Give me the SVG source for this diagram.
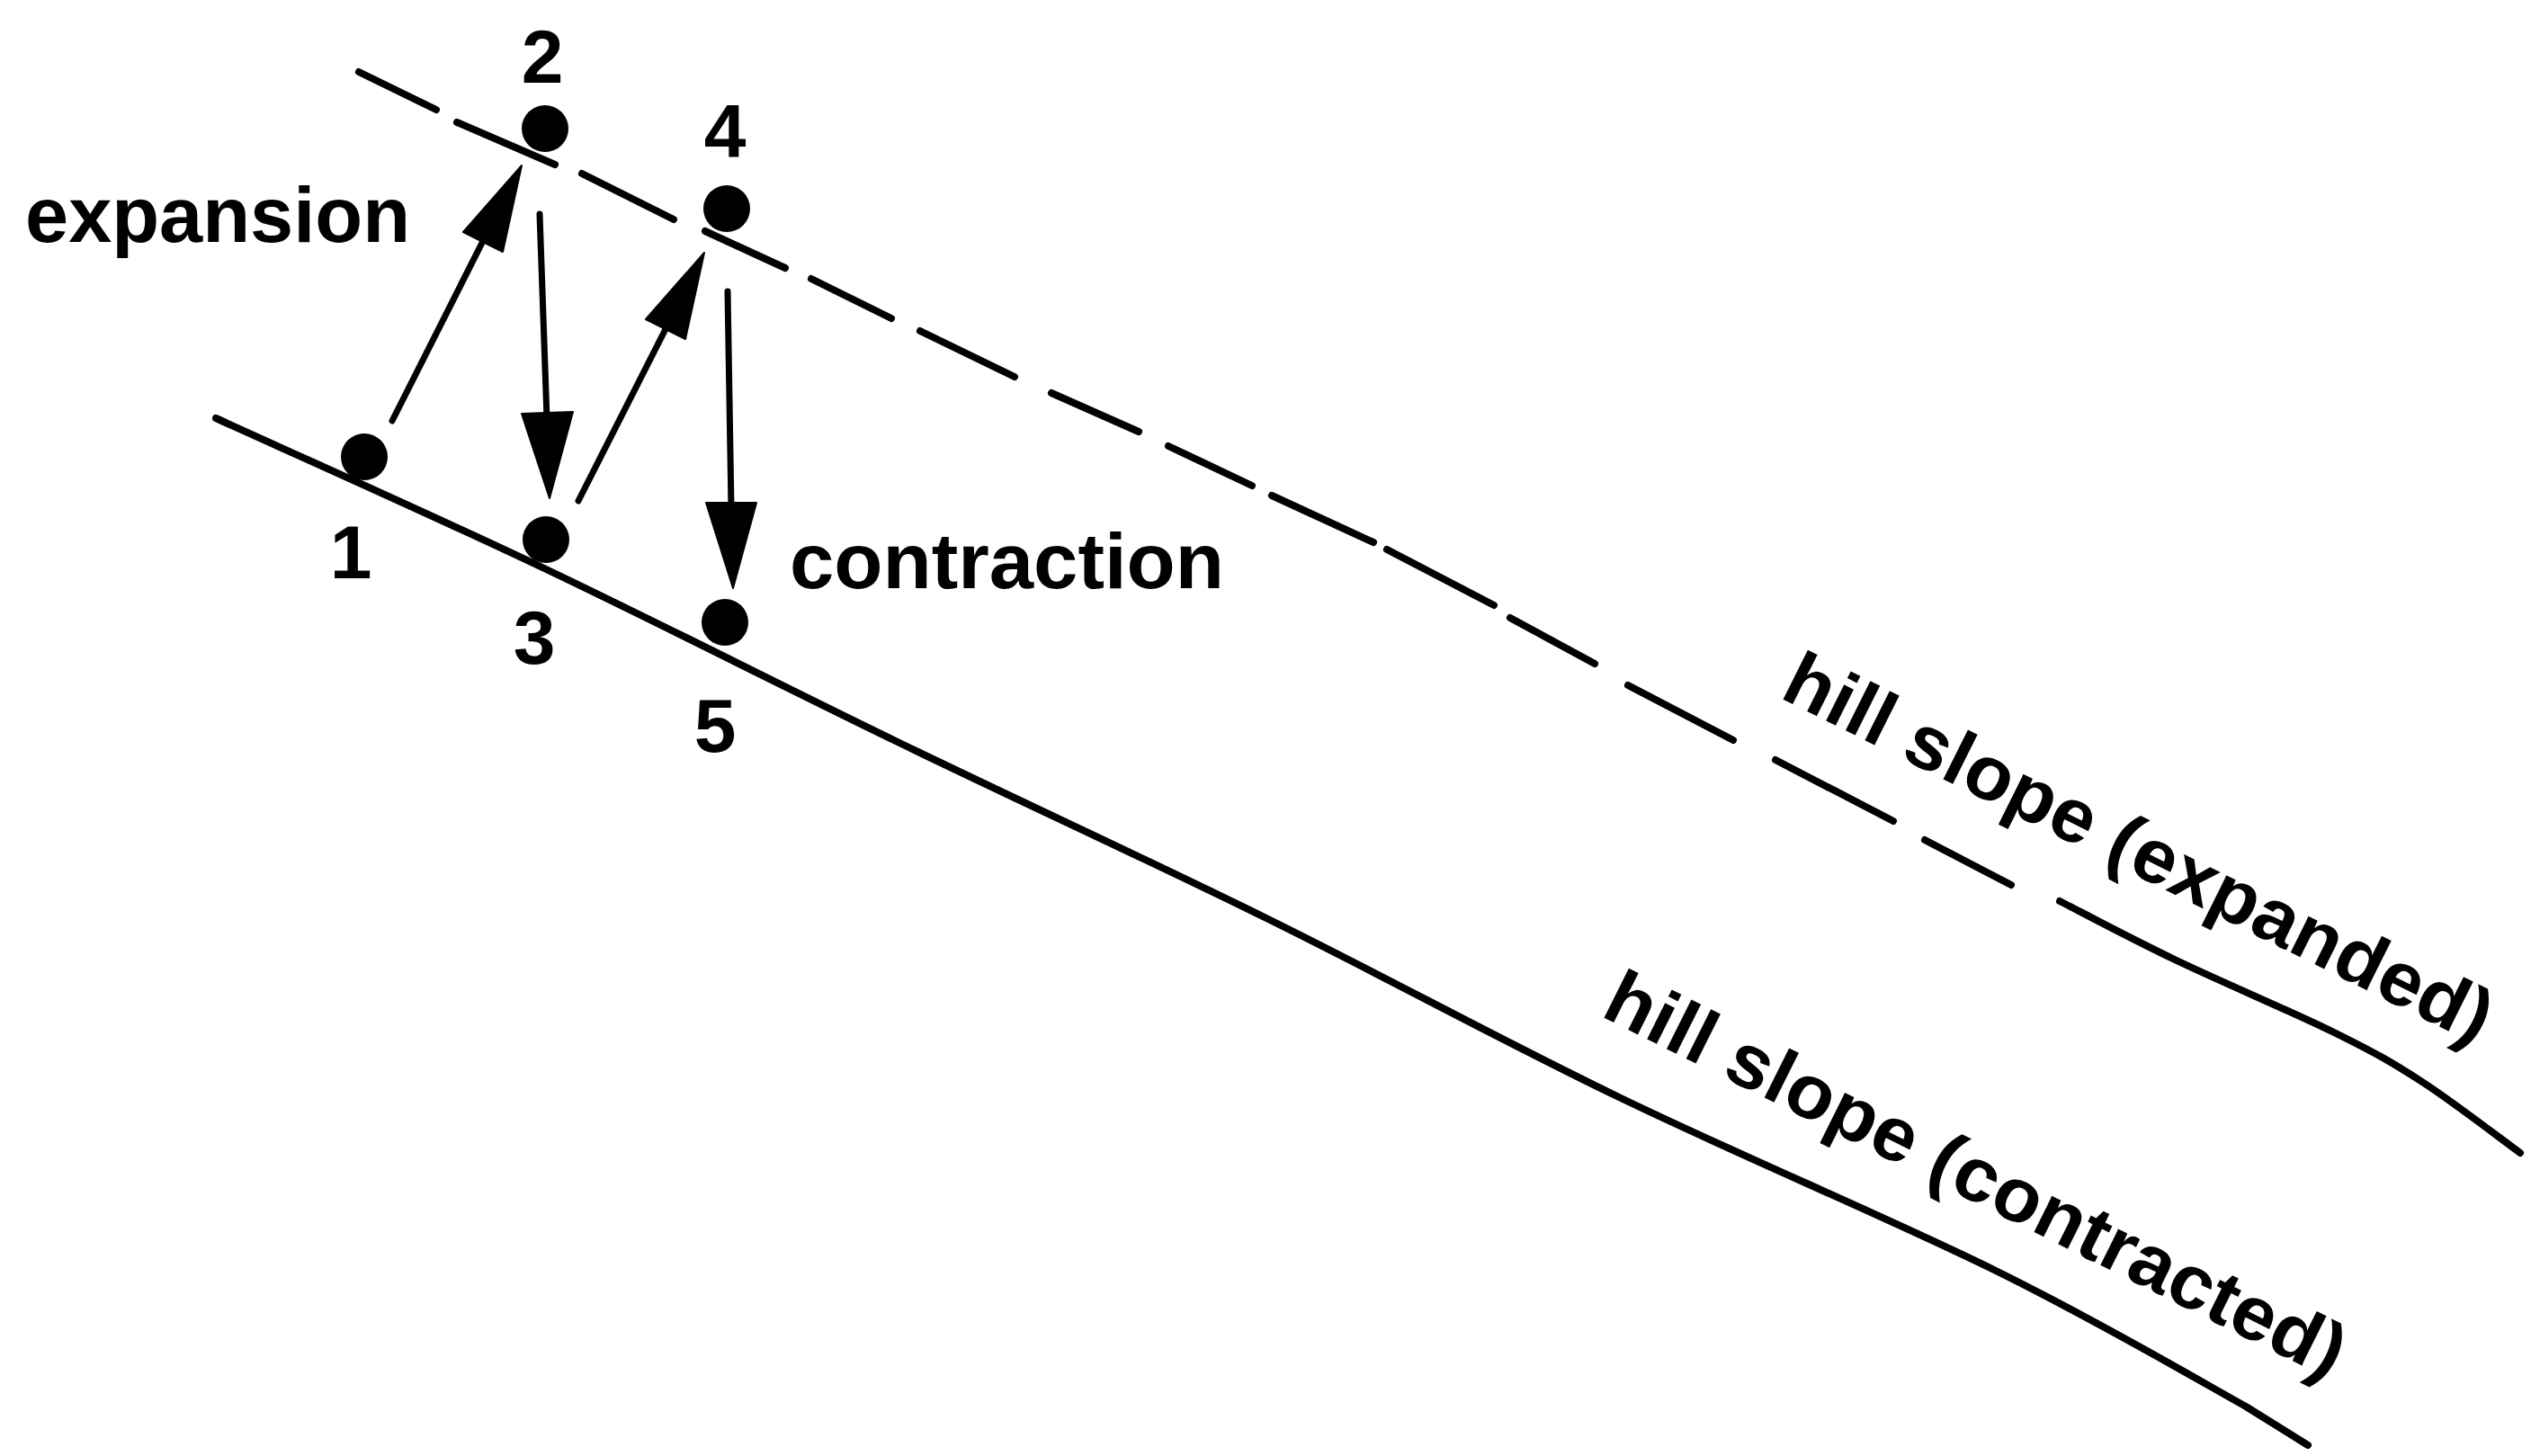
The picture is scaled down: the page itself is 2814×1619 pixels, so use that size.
<svg xmlns="http://www.w3.org/2000/svg" width="2814" height="1619" viewBox="0 0 2814 1619">
<style>
.bg{fill:#fff}
.ln{fill:none;stroke:#000;stroke-width:8;stroke-linecap:round;stroke-linejoin:round}
.sh{fill:none;stroke:#000;stroke-width:7;stroke-linecap:round}
.hd{fill:#000;stroke:#000;stroke-width:2;stroke-linejoin:round}
.dot{fill:#000}
.t{font-family:"Liberation Sans",Arial,sans-serif;font-weight:bold;fill:#000}
.num{font-size:84px;text-anchor:middle}
.lbl{font-size:87px}
.sl{font-size:85px}
</style>
<rect class="bg" x="0" y="0" width="2814" height="1619"/>
<g id="slope-expanded">
<path class="ln" d="M399,80 L485,122 M508,136 L617,183 M647,193 L749,244 M784,257 L873,298 M902,310 L991,354 M1023,368 L1128,419 M1169,437 L1266,480 M1299,496 L1392,540 M1414,551 L1527,603 M1542,611 L1661,673 M1679,687 L1773,738 M1810,762 L1927,823 M1974,845 L2105,913 M2140,934 L2236,984"/>
<path class="ln" d="M2290,1002 C2311.7,1013 2369.2,1043.7 2420,1068 C2470.8,1092.3 2549.5,1125.5 2595,1148 C2640.5,1170.5 2658.5,1180.7 2693,1203 C2727.5,1225.3 2783.8,1268.8 2802,1282"/>
<text class="t sl" transform="translate(1977,775) rotate(26.5)" textLength="868" lengthAdjust="spacingAndGlyphs">hill slope (expanded)</text>
</g>
<g id="slope-contracted">
<path class="ln" d="M240,465 C300.5,492.7 476.3,570.8 603,631 C729.7,691.2 865.8,761 1000,826 C1134.2,891 1274.7,955.3 1408,1021 C1541.3,1086.7 1665.2,1154.8 1800,1220 C1934.8,1285.2 2100.8,1354.7 2217,1412 C2333.2,1469.3 2438.8,1531.5 2497,1564 L2566,1607"/>
<text class="t sl" transform="translate(1778,1129) rotate(26.5)" textLength="908" lengthAdjust="spacingAndGlyphs">hill slope (contracted)</text>
</g>
<g id="node-1"><circle class="dot" cx="405" cy="508" r="26"/><text class="t num" x="390" y="643">1</text></g>
<g id="node-2"><circle class="dot" cx="606" cy="143" r="26"/><text class="t num" x="603" y="92">2</text></g>
<g id="node-3"><circle class="dot" cx="607" cy="600" r="26"/><text class="t num" x="594" y="738">3</text></g>
<g id="node-4"><circle class="dot" cx="808" cy="232" r="26"/><text class="t num" x="806" y="175">4</text></g>
<g id="node-5"><circle class="dot" cx="806" cy="692" r="26"/><text class="t num" x="795" y="836">5</text></g>
<g id="connectors">
<line class="sh" x1="436" y1="468" x2="540" y2="262"/>
<polygon class="hd" points="580,184 559,280 515,258"/>
<line class="sh" x1="600" y1="238" x2="608" y2="465"/>
<polygon class="hd" points="611,554 637,458 580,460"/>
<line class="sh" x1="643" y1="557" x2="743" y2="360"/>
<polygon class="hd" points="783,281 762,377 718,355"/>
<line class="sh" x1="809" y1="324" x2="813" y2="565"/>
<polygon class="hd" points="815,654 841,559 785,559"/>
</g>
<text class="t lbl" x="28" y="269" textLength="428" lengthAdjust="spacingAndGlyphs">expansion</text>
<text class="t lbl" x="878" y="654" textLength="483" lengthAdjust="spacingAndGlyphs">contraction</text>
</svg>
